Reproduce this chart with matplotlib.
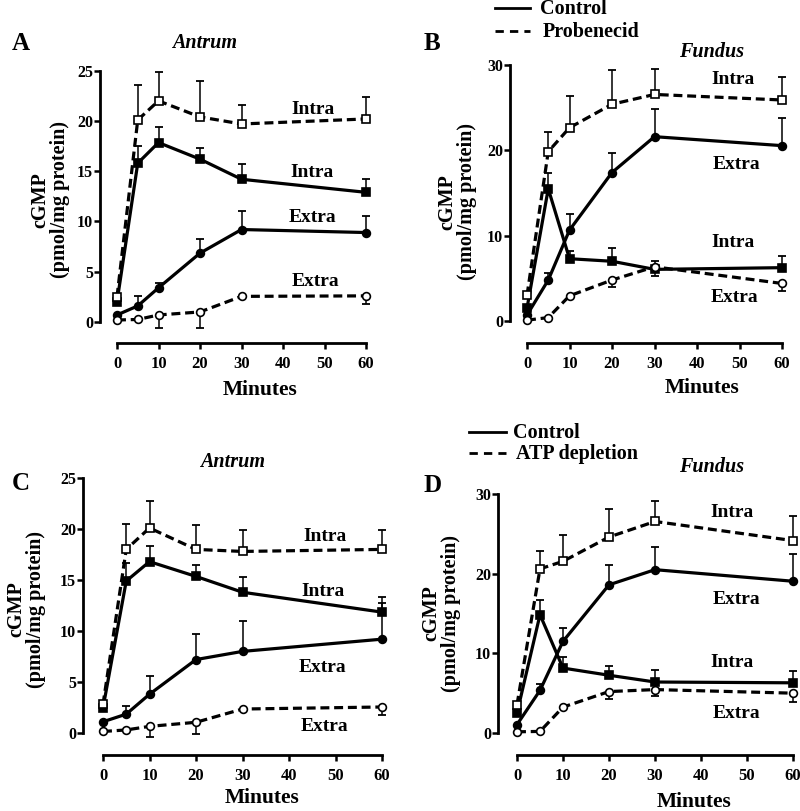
import matplotlib
matplotlib.use("Agg")
import matplotlib.pyplot as plt
import numpy as np
from matplotlib.lines import Line2D

plt.rcParams['font.family'] = ['Liberation Serif', 'DejaVu Serif']
plt.rcParams['font.weight'] = 'bold'

# ---------------- data ----------------
minutes = [0, 5, 10, 20, 30, 60]
x_ticks = [0, 10, 20, 30, 40, 50, 60]

# Panel A (Antrum, Control vs Probenecid)
A_ctrl_intra = [2.0, 15.8, 17.85, 16.2, 14.2, 12.9]
A_ctrl_intra_up = [0, 1.75, 1.5, 1.1, 1.5, 1.3]
A_ctrl_extra = [0.7, 1.6, 3.4, 6.85, 9.2, 8.9]
A_ctrl_extra_up = [0, 1.0, 0.5, 1.45, 1.8, 1.6]
A_trt_intra = [2.5, 20.1, 22.0, 20.4, 19.7, 20.2]
A_trt_intra_up = [0, 3.5, 2.9, 3.6, 1.9, 2.15]
A_trt_extra = [0.2, 0.25, 0.7, 1.0, 2.55, 2.6]
A_trt_extra_dn = [0, 0, 1.25, 1.6, 0, 0.8]

# Panel B (Fundus, Control vs Probenecid)
B_ctrl_intra = [1.5, 15.5, 7.3, 7.0, 6.05, 6.25]
B_ctrl_intra_up = [0, 1.9, 0.9, 1.5, 0.95, 1.35]
B_ctrl_extra = [0.7, 4.8, 10.65, 17.4, 21.6, 20.55]
B_ctrl_extra_up = [0, 0.85, 1.85, 2.3, 3.2, 3.2]
B_trt_intra = [3.0, 19.85, 22.65, 25.4, 26.55, 25.9]
B_trt_intra_up = [0, 2.25, 3.75, 4.0, 3.0, 2.7]
B_trt_extra = [0.1, 0.4, 2.95, 4.8, 6.35, 4.4]
B_trt_extra_dn = [0, 0, 0, 0.85, 1.05, 0.9]

# Panel C (Antrum, Control vs ATP depletion)
C_ctrl_intra = [2.45, 14.9, 16.8, 15.35, 13.8, 11.85]
C_ctrl_intra_up = [0, 1.8, 1.5, 1.15, 1.5, 1.45]
C_ctrl_extra = [1.1, 1.85, 3.8, 7.2, 8.0, 9.2]
C_ctrl_extra_up = [0, 0.75, 1.8, 2.5, 2.95, 3.55]
C_trt_intra = [2.8, 18.0, 20.1, 18.0, 17.8, 18.0]
C_trt_intra_up = [0, 2.5, 2.6, 2.35, 2.1, 1.9]
C_trt_extra = [0.15, 0.3, 0.65, 1.05, 2.35, 2.55]
C_trt_extra_dn = [0, 0, 1.05, 1.1, 0, 0.8]

# Panel D (Fundus, Control vs ATP depletion)
D_ctrl_intra = [2.5, 14.85, 8.15, 7.25, 6.4, 6.3]
D_ctrl_intra_up = [0, 1.8, 1.45, 1.1, 1.45, 1.45]
D_ctrl_extra = [1.05, 5.35, 11.5, 18.6, 20.5, 19.05]
D_ctrl_extra_up = [0, 0.85, 1.7, 2.5, 2.85, 3.45]
D_trt_intra = [3.55, 20.6, 21.55, 24.6, 26.55, 24.15]
D_trt_intra_up = [0, 2.2, 3.25, 3.5, 2.55, 3.15]
D_trt_extra = [0.15, 0.2, 3.25, 5.2, 5.45, 5.0]
D_trt_extra_dn = [0, 0, 0, 0.9, 0.75, 1.05]

panel_letters = ["A", "B", "C", "D"]
panel_titles = ["Antrum", "Fundus", "Antrum", "Fundus"]
legend_labels_B = ["Control", "Probenecid"]
legend_labels_D = ["Control", "ATP depletion"]
y_max = [25, 30, 25, 30]
y_ticks = [[0, 5, 10, 15, 20, 25], [0, 10, 20, 30], [0, 5, 10, 15, 20, 25], [0, 10, 20, 30]]

# ---------------- layout ----------------
W, H = 800, 811
fig = plt.figure(figsize=(8.0, 8.11), dpi=100)


def fx(px):
    return px / W


def fy(py):
    return 1 - py / H


def ax_at(x0, x1, ytop, ybot):
    return fig.add_axes([fx(x0), fy(ybot), fx(x1) - fx(x0), (ybot - ytop) / H])


panels = [
    dict(box=(117, 366, 70.7, 322), off=(12.2, 15.0),
         data=[(A_ctrl_intra, A_ctrl_intra_up, None, 's', True, '-'),
               (A_ctrl_extra, A_ctrl_extra_up, None, 'o', True, '-'),
               (A_trt_intra, A_trt_intra_up, None, 's', False, '--'),
               (A_trt_extra, None, A_trt_extra_dn, 'o', False, '--')],
         lab_pos=[(47.2, 21.1), (47.0, 14.9), (47.2, 10.35), (47.7, 4.0)],
         lab_order=["Intra", "Intra", "Extra", "Extra"],
         letter=(12, 44), title=(205, 43), minutes=(260, 390), ylab=(50, 200)),
    dict(box=(527, 782, 65, 321), off=(12.2, 15.8),
         data=[(B_ctrl_intra, B_ctrl_intra_up, None, 's', True, '-'),
               (B_ctrl_extra, B_ctrl_extra_up, None, 'o', True, '-'),
               (B_trt_intra, B_trt_intra_up, None, 's', False, '--'),
               (B_trt_extra, None, B_trt_extra_dn, 'o', False, '--')],
         lab_pos=[(48.5, 28.25), (49.4, 18.3), (48.5, 9.15), (48.9, 2.7)],
         lab_order=["Intra", "Extra", "Intra", "Extra"],
         letter=(432, 43), title=(712, 52), minutes=(702, 388), ylab=(457, 202)),
    dict(box=(103, 382, 478, 733), off=(14.4, 15.8),
         data=[(C_ctrl_intra, C_ctrl_intra_up, None, 's', True, '-'),
               (C_ctrl_extra, C_ctrl_extra_up, None, 'o', True, '-'),
               (C_trt_intra, C_trt_intra_up, None, 's', False, '--'),
               (C_trt_extra, None, C_trt_extra_dn, 'o', False, '--')],
         lab_pos=[(47.7, 19.3), (47.3, 13.9), (47.3, 6.4), (47.7, 0.6)],
         lab_order=["Intra", "Intra", "Extra", "Extra"],
         letter=(12, 483), title=(233, 462), minutes=(262, 798), ylab=(26, 609)),
    dict(box=(517, 793, 494, 733), off=(13.7, 15.8),
         data=[(D_ctrl_intra, D_ctrl_intra_up, None, 's', True, '-'),
               (D_ctrl_extra, D_ctrl_extra_up, None, 'o', True, '-'),
               (D_trt_intra, D_trt_intra_up, None, 's', False, '--'),
               (D_trt_extra, None, D_trt_extra_dn, 'o', False, '--')],
         lab_pos=[(46.7, 27.7), (47.6, 16.7), (46.7, 8.8), (47.8, 2.5)],
         lab_order=["Intra", "Extra", "Intra", "Extra"],
         letter=(433, 486), title=(712, 467), minutes=(694, 802), ylab=(441, 613)),
]

LW = 2.3
DASH = (2.8, 1.5)

for i, p in enumerate(panels):
    x0, x1, yt, yb = p['box']
    ax = ax_at(x0, x1, yt, yb)
    ax.set_xlim(0, 60)
    ax.set_ylim(0, y_max[i])
    for s in ['top', 'right']:
        ax.spines[s].set_visible(False)
    ax.spines['left'].set_position(('outward', p['off'][0]))
    ax.spines['bottom'].set_position(('outward', p['off'][1]))
    for s in ['left', 'bottom']:
        ax.spines[s].set_linewidth(2.0)
    ax.set_xticks(x_ticks)
    ax.set_yticks(y_ticks[i])
    ax.tick_params(axis='x', direction='out', length=4.5, width=1.8, pad=5.0, labelsize=12)
    ax.tick_params(axis='y', direction='out', length=4.0, width=1.8, pad=1.0, labelsize=11.5)
    for lab in ax.get_xticklabels() + ax.get_yticklabels():
        lab.set_fontweight('bold')

    t = np.array(minutes, dtype=float)
    for (vals, up, dn, mk, filled, ls) in p['data']:
        v = np.array(vals, dtype=float)
        if up is not None:
            u = np.array(up, dtype=float)
            m = u > 0
            ax.errorbar(t[m], v[m], yerr=[np.zeros(m.sum()), u[m]], fmt='none',
                        ecolor='black', elinewidth=1.1, capsize=3.2, capthick=1.3,
                        clip_on=False, zorder=2)
        if dn is not None:
            d = np.array(dn, dtype=float)
            m = d > 0
            ax.errorbar(t[m], v[m], yerr=[d[m], np.zeros(m.sum())], fmt='none',
                        ecolor='black', elinewidth=1.1, capsize=3.2, capthick=1.3,
                        clip_on=False, zorder=2)
        line, = ax.plot(t, v, linestyle=ls, color='black', linewidth=LW,
                        marker=mk, markersize=5.2 if mk == 's' else 5.6,
                        markerfacecolor='black' if filled else 'white',
                        markeredgecolor='black', markeredgewidth=1.2,
                        clip_on=False, zorder=3)
        if ls == '--':
            line.set_dashes(DASH)

    for (lx, ly), txt in zip(p['lab_pos'], p['lab_order']):
        ax.text(lx, ly, txt, fontsize=14, fontweight='bold', ha='center', va='center')

    fig.text(fx(p['letter'][0]), fy(p['letter'][1]), panel_letters[i], fontsize=18,
             fontweight='bold', ha='center' if i % 2 else 'left', va='center')
    fig.text(fx(p['title'][0]), fy(p['title'][1]), panel_titles[i], fontsize=14.5,
             fontweight='bold', style='italic', ha='center', va='center')
    fig.text(fx(p['minutes'][0]), fy(p['minutes'][1]), "Minutes", fontsize=15.5,
             fontweight='bold', ha='center', va='center')
    fig.text(fx(p['ylab'][0]), fy(p['ylab'][1]), "cGMP\n(pmol/mg protein)", fontsize=14.5,
             fontweight='bold', ha='center', va='center', rotation=90,
             multialignment='center', linespacing=1.0)


def legend(x_line0, x_line1, x_text, y_solid, y_dash, labels):
    fig.add_artist(Line2D([fx(x_line0), fx(x_line1)], [fy(y_solid), fy(y_solid)],
                          color='black', linewidth=2.0))
    dl = Line2D([fx(x_line0), fx(x_line1)], [fy(y_dash), fy(y_dash)],
                color='black', linewidth=2.0, linestyle='--')
    dl.set_dashes((3.0, 2.2))
    fig.add_artist(dl)
    fig.text(fx(x_text), fy(y_solid + 1), labels[0], fontsize=14.5, fontweight='bold',
             ha='left', va='center')
    fig.text(fx(x_text + 3), fy(y_dash + 1), labels[1], fontsize=14.5, fontweight='bold',
             ha='left', va='center')


legend(495, 530, 540, 8, 31, legend_labels_B)
legend(469, 506, 513, 432, 453, legend_labels_D)

fig.savefig("out.png", dpi=100)
